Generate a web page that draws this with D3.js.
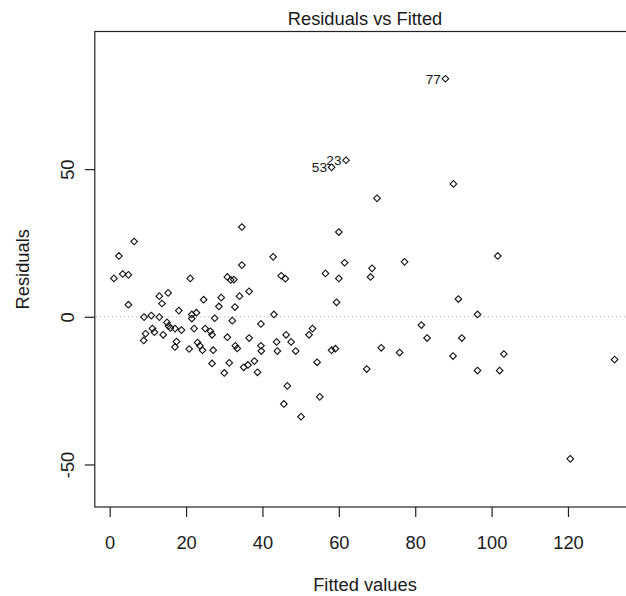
<!DOCTYPE html>
<html>
<head>
<meta charset="utf-8">
<script src="https://cdn.jsdelivr.net/npm/d3@7"></script>
<style>
  html, body { margin: 0; padding: 0; background: #ffffff; }
  svg { display: block; }
  text { font-family: "Liberation Sans", Arial, sans-serif; fill: #1a1a1a; }
</style>
</head>
<body>
<div id="chart"></div>
<script>
// ---- data ----
const fitted = [1.1,2.4,3.4,4.9,6.4,4.9,9.0,10.9,13.0,9.4,
  11.2,11.7,8.9,14.0,13.0,15.3,13.7,15.0,15.4,15.9,
  17.1,18.8,18.1,17.5,17.1,20.8,21.1,21.5,22.7,21.5,
  22.1,23.0,23.6,24.3,24.6,25.0,26.4,26.8,27.1,26.8,
  27.5,28.6,29.2,30.0,30.8,31.7,32.5,30.8,31.3,32.1,
  32.8,32.9,33.4,34.0,34.6,34.6,35.1,36.2,36.5,36.5,
  37.9,38.7,39.6,39.6,39.7,42.8,43.0,43.7,43.9,44.9,
  46.0,46.2,46.5,45.6,47.5,48.7,50.1,52.2,53.1,54.3,
  55.0,56.5,58.1,59.1,59.4,60.0,60.0,61.5,58.1,61.9,
  67.3,68.7,68.3,70.0,71.1,75.9,77.2,81.6,83.1,87.9,
  90.0,89.9,91.3,92.2,96.3,96.3,101.6,102.1,103.2,120.6,132.2];
const residuals = [13.0,20.6,14.5,14.2,25.5,4.1,-0.1,0.4,-0.1,-5.7,
  -4.0,-5.2,-8.0,-6.1,7.0,8.1,4.5,-1.9,-3.1,-3.8,
  -4.0,-4.5,2.1,-8.4,-10.2,-10.9,13.0,0.8,1.4,-0.6,
  -4.0,-8.7,-9.8,-11.3,5.8,-4.0,-4.9,-6.1,-11.3,-15.8,
  -0.5,3.5,6.5,-19.0,13.5,12.5,12.6,-6.9,-15.6,-1.3,
  3.3,-9.8,-10.7,7.0,30.4,17.5,-17.1,-16.3,8.6,-7.2,
  -15.0,-18.8,-2.4,-9.8,-11.6,20.3,0.8,-8.5,-11.6,13.9,
  12.9,-6.1,-23.4,-29.5,-8.5,-11.6,-33.8,-6.1,-4.0,-15.4,
  -27.1,14.7,-11.3,-10.8,4.9,13.0,28.7,18.3,50.6,53.0,
  -17.7,16.4,13.5,40.1,-10.5,-12.1,18.6,-2.8,-7.2,80.6,
  45.0,-13.3,6.0,-7.2,0.8,-18.2,20.6,-18.2,-12.6,-48.1,-14.5];
const labelIndex = [99, 89, 88];
const labelText = ["77", "23", "53"];
const xTicks = [0, 20, 40, 60, 80, 100, 120];
const yTicks = [-50, 0, 50];
const titleText = "Residuals vs Fitted";
const xLabel = "Fitted values";
const yLabel = "Residuals";

// ---- layout ----
const W = 626, H = 596;
const pL = 94.8, pR = 635.2, pT = 31.5, pB = 507;

const svg = d3.select("#chart").append("svg")
  .attr("width", W).attr("height", H)
  .attr("viewBox", `0 0 ${W} ${H}`);

svg.append("rect").attr("width", W).attr("height", H).attr("fill", "#fff");

const x = d3.scaleLinear().domain([-3.9, 137.6]).range([pL, pR]);
const y = d3.scaleLinear().domain([-64.4, 96.6]).range([pB, pT]);

// zero reference line
svg.append("line")
  .attr("x1", pL + 1).attr("x2", pR)
  .attr("y1", y(0)).attr("y2", y(0))
  .attr("stroke", "#a0a0a0").attr("stroke-width", 1)
  .attr("stroke-dasharray", "1,3");

// box
svg.append("rect")
  .attr("x", pL).attr("y", pT)
  .attr("width", pR - pL).attr("height", pB - pT)
  .attr("fill", "none").attr("stroke", "#222").attr("stroke-width", 1.2);

const plainFmt = d => String(d);

// x axis
const gx = svg.append("g").attr("transform", `translate(0,${pB})`)
  .call(d3.axisBottom(x).tickValues(xTicks).tickSize(10).tickFormat(plainFmt));
gx.select(".domain").remove();
gx.selectAll(".tick line").attr("stroke", "#222").attr("stroke-width", 1.2);
gx.selectAll(".tick text")
  .attr("y", 42).attr("dy", null)
  .style("font-size", "18.3px")
  .style("font-family", '"Liberation Sans", Arial, sans-serif')
  .attr("fill", "#1a1a1a");

// y axis
const gy = svg.append("g").attr("transform", `translate(${pL},0)`)
  .call(d3.axisLeft(y).tickValues(yTicks).tickSize(10).tickFormat(plainFmt));
gy.select(".domain").remove();
gy.selectAll(".tick line").attr("stroke", "#222").attr("stroke-width", 1.2);
gy.selectAll(".tick text")
  .attr("x", null).attr("dy", null)
  .attr("text-anchor", "middle")
  .attr("transform", "translate(-21,0) rotate(-90)")
  .style("font-size", "18.3px")
  .style("font-family", '"Liberation Sans", Arial, sans-serif')
  .attr("fill", "#1a1a1a");

// points (small open diamonds)
const pts = fitted.map((f, i) => ({ f, r: residuals[i] }));
const sym = d3.symbol().type(d3.symbolSquare).size(22);
svg.append("g").selectAll("path").data(pts).join("path")
  .attr("d", sym)
  .attr("transform", d => `translate(${x(d.f)},${y(d.r)}) rotate(45)`)
  .attr("fill", "none").attr("stroke", "#111").attr("stroke-width", 1.1);

// id labels
svg.append("g").selectAll("text").data(labelIndex).join("text")
  .attr("x", d => x(fitted[d]) - 4.5)
  .attr("y", d => y(residuals[d]) + 5)
  .attr("text-anchor", "end")
  .style("font-size", "13.7px")
  .text((d, i) => labelText[i]);

// title & axis labels
const cx = (pL + pR) / 2;
svg.append("text").attr("x", cx).attr("y", 25)
  .attr("text-anchor", "middle").style("font-size", "18.3px").text(titleText);
svg.append("text").attr("x", cx).attr("y", 591)
  .attr("text-anchor", "middle").style("font-size", "18.3px").text(xLabel);
svg.append("text")
  .attr("transform", `translate(29,${(pT + pB) / 2}) rotate(-90)`)
  .attr("text-anchor", "middle").style("font-size", "18.3px").text(yLabel);
</script>
</body>
</html>
